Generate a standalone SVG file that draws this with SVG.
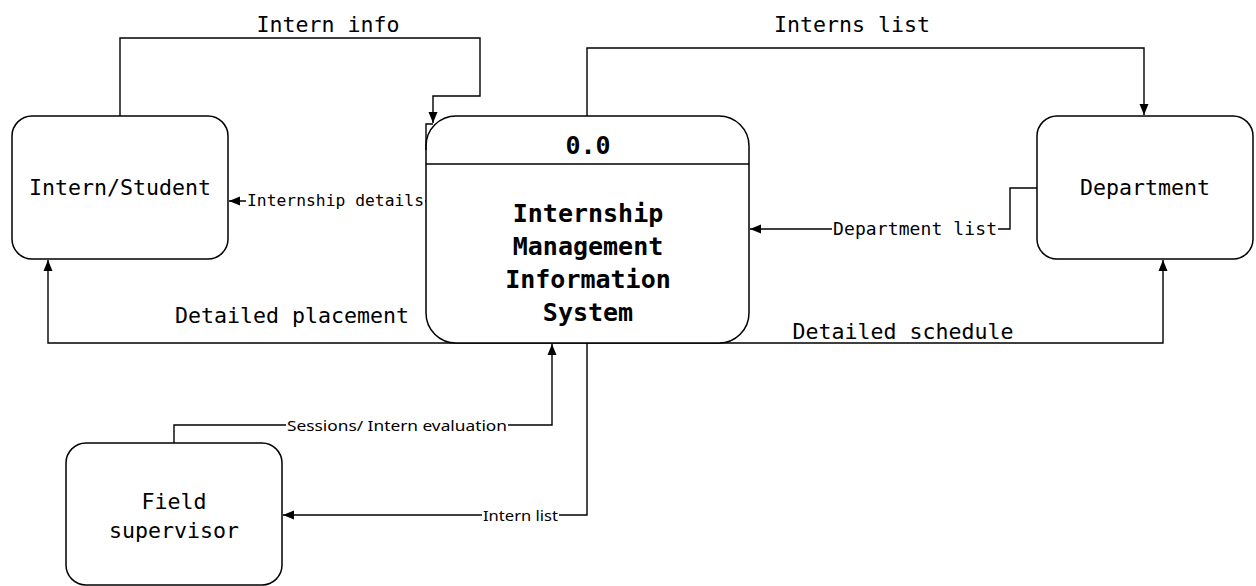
<svg xmlns="http://www.w3.org/2000/svg" width="1256" height="586" viewBox="0 0 1256 586">
<style>
.box{fill:#fff;stroke:#000;stroke-width:1.5}
.ln{fill:none;stroke:#000;stroke-width:1.4}
.t{font-family:"DejaVu Sans Mono","Liberation Mono",monospace;font-size:21.6px;fill:#000;text-anchor:middle}
.b{font-family:"DejaVu Sans Mono","Liberation Mono",monospace;font-size:25px;font-weight:bold;fill:#000;text-anchor:middle}
.s{font-family:"DejaVu Sans Mono","Liberation Mono",monospace;fill:#000}
.ss{font-family:"Noto Sans","Open Sans",sans-serif;font-size:15px;fill:#000}
.bg{fill:#fff}
</style>
<defs>
<marker id="ah" markerUnits="userSpaceOnUse" markerWidth="11" markerHeight="10" refX="11" refY="5" orient="auto">
<path d="M0,0.5 L11,5 L0,9.5 z" fill="#000"/>
</marker>
</defs>
<rect width="1256" height="586" fill="#fff"/>
<g id="connectors">
<path class="ln" d="M120,116 V38 H480 V96 H433 V123" marker-end="url(#ah)"/>
<path class="ln" d="M426,201 H229" marker-end="url(#ah)"/>
<path class="ln" d="M587,116 V48 H1144 V115" marker-end="url(#ah)"/>
<path class="ln" d="M1037,188 H1010 V229 H750" marker-end="url(#ah)"/>
<path class="ln" d="M587,343 H48 V260" marker-end="url(#ah)"/>
<path class="ln" d="M587,343 H1163 V260" marker-end="url(#ah)"/>
<path class="ln" d="M174,443 V425 H552 V344" marker-end="url(#ah)"/>
<path class="ln" d="M587,343 V515 H283" marker-end="url(#ah)"/>
<text class="t" x="328" y="32">Intern info</text>
<text class="t" x="852" y="32">Interns list</text>
<text class="t" x="292" y="323">Detailed placement</text>
<text class="t" x="903" y="339">Detailed schedule</text>
<rect class="bg" x="246" y="192" width="179" height="18"/>
<text class="s" x="247" y="206" font-size="16.3" textLength="177">Internship details</text>
<rect class="bg" x="832" y="220" width="166" height="19"/>
<text class="s" x="833" y="235" font-size="18" textLength="164">Department list</text>
<rect class="bg" x="286" y="416" width="222" height="19"/>
<text class="ss" x="287" y="431" textLength="220" lengthAdjust="spacingAndGlyphs">Sessions/ Intern evaluation</text>
<rect class="bg" x="482" y="506" width="77" height="19"/>
<text class="ss" x="483" y="521" textLength="75" lengthAdjust="spacingAndGlyphs">Intern list</text>
</g>
<g id="intern-student">
<rect class="box" x="12" y="116" width="216" height="143" rx="20"/>
<text class="t" x="120" y="195">Intern/Student</text>
</g>
<g id="imis">
<rect class="box" x="426" y="116" width="323" height="227" rx="30"/>
<path class="ln" d="M426,164 H749"/>
<path class="ln" d="M426,150 V124 H433"/>
<text class="b" x="588" y="154">0.0</text>
<text class="b" x="588" y="222">Internship</text>
<text class="b" x="588" y="255">Management</text>
<text class="b" x="588" y="288">Information</text>
<text class="b" x="588" y="321">System</text>
</g>
<g id="department">
<rect class="box" x="1037" y="116" width="216" height="143" rx="20"/>
<text class="t" x="1145" y="195">Department</text>
</g>
<g id="field-supervisor">
<rect class="box" x="66" y="443" width="216" height="142" rx="20"/>
<text class="t" x="174" y="509">Field</text>
<text class="t" x="174" y="538">supervisor</text>
</g>
</svg>
